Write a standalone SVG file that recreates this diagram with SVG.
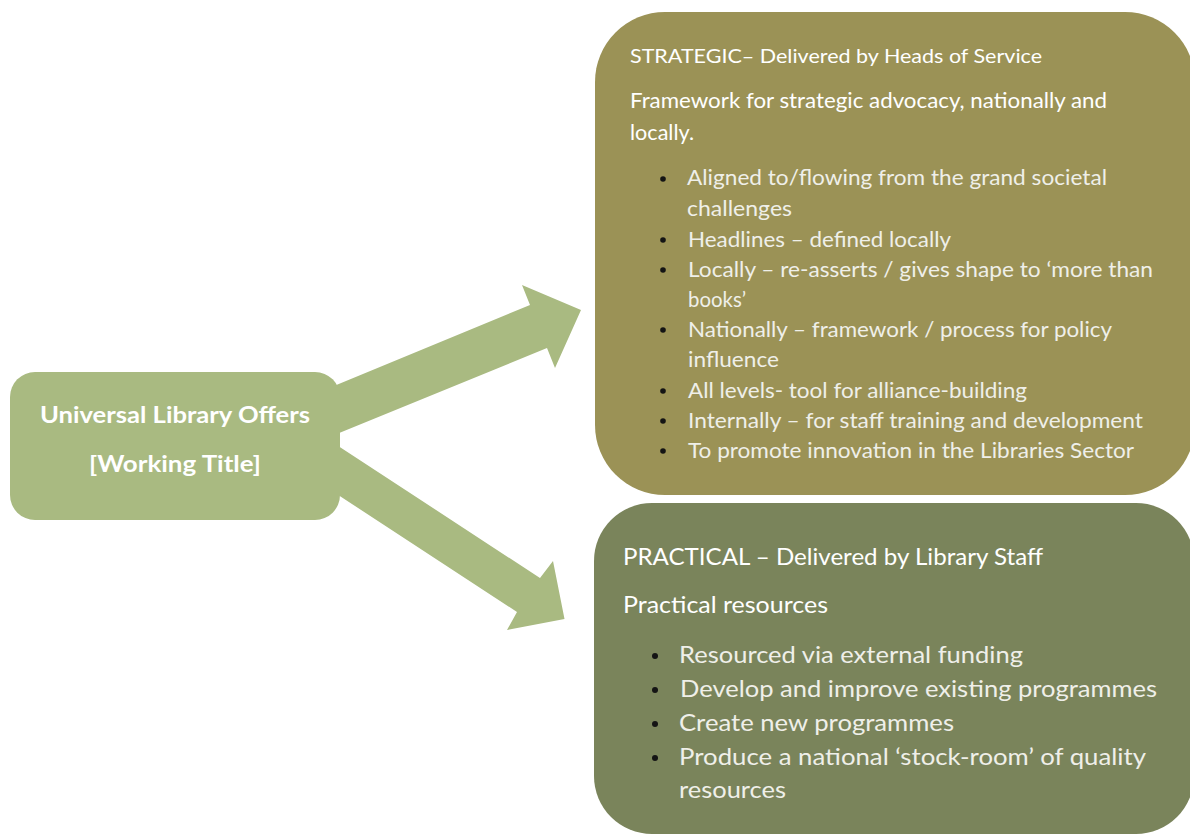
<svg xmlns="http://www.w3.org/2000/svg" width="1190" height="836" viewBox="0 0 1190 836">
<style>
.t{font-family:Lato,"Liberation Sans",sans-serif;fill:#ffffff}
.b{font-family:Lato,"Liberation Sans",sans-serif;fill:#efefe9}
.dot{fill:#141414}
.arrow{fill:#a9ba81}
</style>
<rect width="1190" height="836" fill="#ffffff"/>
<g id="connectors">
<polygon class="arrow" points="300,400 530,305 522,285 581,310 555,368 547,348 300,449"/>
<polygon class="arrow" points="300,421 540,578 553,561 564.5,619 507,630 517,612 300,470"/>
</g>
<g id="source">
<rect x="10" y="372" width="330" height="148" rx="25" fill="#a9ba81"/>
<text class="t" x="175" y="423" font-size="22.5" font-weight="bold" text-anchor="middle" textLength="270" lengthAdjust="spacingAndGlyphs">Universal Library Offers</text>
<text class="t" x="175" y="472" font-size="22.5" font-weight="bold" text-anchor="middle" textLength="172" lengthAdjust="spacingAndGlyphs">[Working Title]</text>
</g>
<g id="strategic">
<rect x="595" y="12" width="600" height="483" rx="70" fill="#9b9256"/>
<text class="t" x="630" y="63" font-size="20" textLength="412" lengthAdjust="spacingAndGlyphs">STRATEGIC– Delivered by Heads of Service</text>
<text class="t" x="630" y="108" font-size="21" textLength="477" lengthAdjust="spacingAndGlyphs">Framework for strategic advocacy, nationally and</text>
<text class="t" x="630" y="140" font-size="21" textLength="64" lengthAdjust="spacingAndGlyphs">locally.</text>
<circle class="dot" cx="663" cy="179" r="2.8"/>
<text class="b" x="687" y="185" font-size="21.5" textLength="420" lengthAdjust="spacingAndGlyphs">Aligned to/flowing from the grand societal</text>
<text class="b" x="687" y="216" font-size="21.5" textLength="105" lengthAdjust="spacingAndGlyphs">challenges</text>
<circle class="dot" cx="663" cy="240" r="2.8"/>
<text class="b" x="688" y="247" font-size="21.5" textLength="263" lengthAdjust="spacingAndGlyphs">Headlines – defined locally</text>
<circle class="dot" cx="663" cy="270" r="2.8"/>
<text class="b" x="688" y="277" font-size="21.5" textLength="465" lengthAdjust="spacingAndGlyphs">Locally – re-asserts / gives shape to ‘more than</text>
<text class="b" x="688" y="307" font-size="21.5" textLength="58" lengthAdjust="spacingAndGlyphs">books’</text>
<circle class="dot" cx="663" cy="330" r="2.8"/>
<text class="b" x="688" y="337" font-size="21.5" textLength="424" lengthAdjust="spacingAndGlyphs">Nationally – framework / process for policy</text>
<text class="b" x="688" y="367" font-size="21.5" textLength="91" lengthAdjust="spacingAndGlyphs">influence</text>
<circle class="dot" cx="663" cy="391" r="2.8"/>
<text class="b" x="688" y="398" font-size="21.5" textLength="339" lengthAdjust="spacingAndGlyphs">All levels- tool for alliance-building</text>
<circle class="dot" cx="663" cy="421" r="2.8"/>
<text class="b" x="688" y="428" font-size="21.5" textLength="455" lengthAdjust="spacingAndGlyphs">Internally – for staff training and development</text>
<circle class="dot" cx="663" cy="451" r="2.8"/>
<text class="b" x="688" y="458" font-size="21.5" textLength="446" lengthAdjust="spacingAndGlyphs">To promote innovation in the Libraries Sector</text>
</g>
<g id="practical">
<rect x="594" y="503" width="600" height="331" rx="58" fill="#7a845b"/>
<text class="t" x="623" y="565" font-size="22.5" textLength="420" lengthAdjust="spacingAndGlyphs">PRACTICAL – Delivered by Library Staff</text>
<text class="t" x="623" y="613" font-size="22.5" textLength="205" lengthAdjust="spacingAndGlyphs">Practical resources</text>
<circle class="dot" cx="655" cy="656" r="3"/>
<text class="b" x="679" y="663" font-size="24" textLength="344" lengthAdjust="spacingAndGlyphs">Resourced via external funding</text>
<circle class="dot" cx="655" cy="690" r="3"/>
<text class="b" x="680" y="697" font-size="24" textLength="477" lengthAdjust="spacingAndGlyphs">Develop and improve existing programmes</text>
<circle class="dot" cx="655" cy="724" r="3"/>
<text class="b" x="679" y="731" font-size="24" textLength="275" lengthAdjust="spacingAndGlyphs">Create new programmes</text>
<circle class="dot" cx="655" cy="758" r="3"/>
<text class="b" x="679" y="765" font-size="24" textLength="467" lengthAdjust="spacingAndGlyphs">Produce a national ‘stock-room’ of quality</text>
<text class="b" x="679" y="798" font-size="24" textLength="107" lengthAdjust="spacingAndGlyphs">resources</text>
</g>
</svg>
